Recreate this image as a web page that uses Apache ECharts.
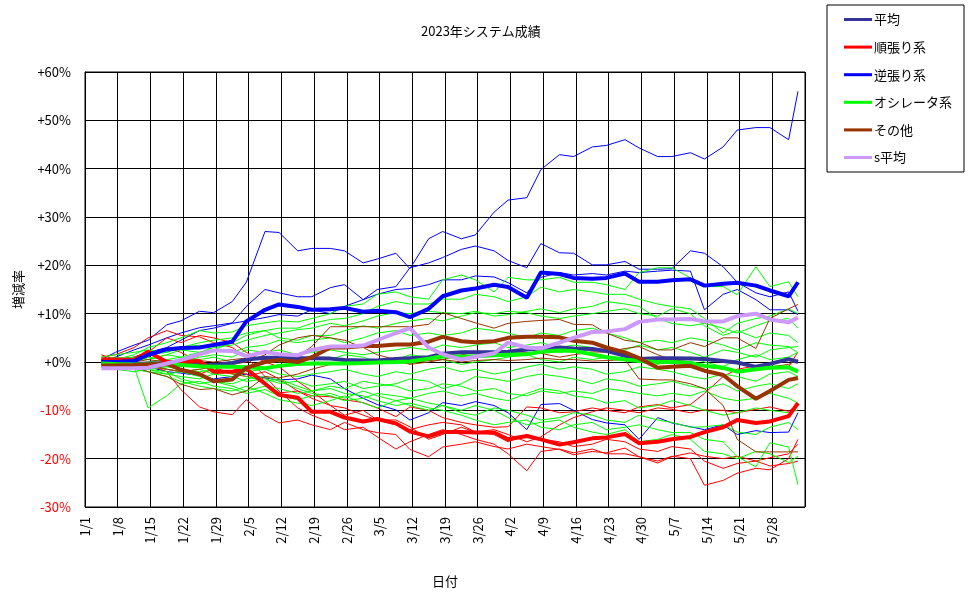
<!DOCTYPE html>
<html>
<head>
<meta charset="utf-8">
<script src="https://cdn.jsdelivr.net/npm/echarts@6/dist/echarts.min.js"></script>
<style>
html,body{margin:0;padding:0;background:#fff}
#main{width:970px;height:599px}
</style>
</head>
<body>
<div id="main"></div>
<script>
/* 2023年システム成績 */
// sample days, counted from 1/1 (= day 0)
var days = [3,6,10,13,17,20,24,27,31,34,38,41,45,48,52,55,59,62,66,69,73,76,80,83,87,90,94,97,101,104,108,111,115,118,122,125,129,132,136,139,143,146,150,152];
var xTickLabels = ['1/1','1/8','1/15','1/22','1/29','2/5','2/12','2/19','2/26','3/5','3/12','3/19','3/26','4/2','4/9','4/16','4/23','4/30','5/7','5/14','5/21','5/28'];
var yTickLabels = ['-30%','-20%','-10%','+0%','+10%','+20%','+30%','+40%','+50%','+60%'];

// 平均系 (太線)
var avgAll   = [-0.3,-0.3,-0.4,-0.3,-0.3,-0.5,-0.6,-0.6,-0.2,0.5,0.9,0.9,0.8,0.8,0.7,0.4,0.3,0.3,0.6,0.8,1,1.7,2,2,2,2.1,2.6,2.8,3,2.8,2.7,2.3,1.3,0.6,0.8,0.8,0.7,0.6,0.2,-0.1,-1,-0.4,0.6,0];
var avgTrend = [0.5,0.5,0.4,2.1,0,0,0.2,-2,-2,-1.4,-4.5,-6.8,-7.4,-10.3,-10.3,-11.5,-12.3,-11.8,-12.7,-14.4,-15.4,-14.5,-14.5,-14.6,-14.6,-16,-15.3,-16,-17.1,-16.6,-15.8,-15.6,-14.9,-16.8,-16.5,-16,-15.5,-14.5,-13.5,-12,-12.6,-12.3,-11.2,-8.5];
var avgCounter = [0,0,0.2,1.5,2.6,2.9,3,3.5,4.2,8.4,10.8,11.9,11.4,10.8,10.9,11.2,10.4,10.6,10.3,9.3,11,13.6,14.8,15.2,16,15.5,13.3,18.5,18.2,17.4,17.2,17.4,18.3,16.6,16.6,16.9,17.1,15.8,16.2,16.4,15.8,14.8,13.6,16.5];
var avgOsc   = [-0.3,-0.4,-0.5,-0.5,-0.6,-0.6,-0.9,-1,-1,-1.1,-1.3,-0.8,-0.4,-0.3,-0.3,-0.3,-0.2,-0.1,0,0.1,0.7,1.2,1.1,1.2,1.4,1.5,1.6,2.1,2.4,2.3,1.6,1,0.5,0.2,0,0,-0.2,-0.8,-1.2,-2,-1.5,-1.2,-1.1,-2];
var avgOther = [-0.7,-0.7,-0.6,-0.5,-0.4,-1.6,-2.5,-4,-3.6,-1.2,0,0.4,0,1,3,3,3.3,3.3,3.6,3.6,4.2,5.2,4.3,4.1,4.3,5,5.2,5.2,5.1,4.4,4,3,2,0.8,-1.2,-1,-0.8,-1.8,-2.7,-5,-7.6,-6,-3.7,-3.3];
var avgS     = [-1.3,-1.3,-1.3,-1.2,-0.3,0.4,1.6,2.4,2.3,1.2,2.1,1.6,1.4,2.5,3.2,3.2,3.4,4.5,6,7,3,1.6,0.5,1.1,1.8,4,3,2.8,4,5,6.2,6.3,6.8,8.3,8.8,8.8,8.9,8.4,8.4,9.5,10,8.8,8.2,9.2];

// 個別システム (細線)
var counter1 = [0.5,2,3.5,4.5,7.7,8.5,10.5,10.2,12.5,16.5,27,26.8,23,23.5,23.5,23,20.5,21.3,22.5,19.3,25.5,27,25.5,26.3,31,33.5,34,39.8,42.9,42.5,44.5,44.8,46,44.3,42.5,42.5,43.3,42,44.5,48,48.5,48.5,46,56];
var counter2 = [0,1,2.5,3.5,5,6,7.1,7.5,8.1,11.5,15,14.3,13.5,13.5,15.4,16,12.9,15,15.6,19.5,20.5,21.6,23.3,24,23,21,19.5,24.5,22.6,22.5,20.1,20.1,20.8,19.2,19.2,19.3,23,22.5,19.7,16.5,14.3,13.5,14.5,10.5];
var counter3 = [0.3,0.5,1,2,3,4.5,6.5,7,8,8.5,9.2,9.8,9.5,10.8,10,11.5,12.9,14,15,15.2,16,17,17,17.8,17.6,16.4,14.3,17.5,18.5,18,18.3,18,18.8,18.5,18.8,19,18.8,10.8,14,15,12.9,10.8,10.8,9.8];
var counter4 = [-0.5,-1,-1.5,-1,-2,-2.3,-2.8,-3.5,-3,-2.5,-3.3,-3.7,-3.5,-2.7,-3.5,-5.5,-7.5,-8.8,-9.9,-12,-10.5,-8.4,-9,-8.2,-9,-10.5,-14,-8.8,-8.6,-10,-11.9,-12.6,-13,-16,-11.5,-12.6,-13.4,-14,-13,-15,-14.2,-14.6,-14.5,-10.5];

var trend1 = [1,1.5,3,5,6.5,5.5,5.2,4,3,1,-3,-6,-9.5,-11,-12.5,-14,-13.5,-15.5,-18,-16.5,-15,-14,-15,-16,-17,-19,-22.5,-18.5,-18,-18.8,-18,-19,-19,-19.6,-20.5,-19.5,-20,-25.5,-24.5,-23,-22,-22.3,-20,-16];
var trend2 = [0,-0.5,-0.5,-1,-1.5,-2,-2.5,-1.5,-2,-2.5,-4.5,-6.4,-6,-7,-7.2,-7.8,-8.4,-9.5,-11.3,-9.3,-10,-11.5,-12.5,-13,-13.5,-13.4,-9.3,-9.5,-10.5,-10.3,-9.5,-10,-10.5,-9.3,-8.8,-9.5,-8.8,-6.5,-3,-1.5,-0.8,-1.2,-1,2.1];
var trend3 = [1.5,0.5,0,1,3,2,0,-1,-2.5,-3,-2,-3.5,-6,-7.5,-9,-9.5,-11,-12,-13,-14,-13,-12.5,-13,-14.5,-14,-15,-16.5,-15.5,-13,-11.5,-10.3,-9.5,-10,-10.5,-9.5,-9.8,-10.5,-9.9,-10,-10.5,-9.8,-9.3,-10.2,-8.8];
var trend4 = [0.5,0,-1,-0.5,-2,-5.7,-9.3,-10.3,-10.9,-7.8,-11,-12.6,-12,-13,-14,-12.5,-14,-14.6,-15,-18.1,-19.6,-17.6,-17,-16.5,-17.5,-18,-17,-17.5,-18.1,-19.2,-18.5,-18.8,-17.8,-19.6,-20.9,-19.6,-18.8,-19.5,-20,-19.5,-20.5,-19.8,-19,-17];
var trend5 = [0,0.5,1,2,5,4,5.5,5,4,2,0,-1,-4,-6,-9,-11,-10,-12,-12,-13.4,-16,-15,-13.5,-14.5,-15,-16.5,-15,-16,-16.5,-17.5,-17,-16,-16.5,-18,-18.5,-17.5,-18,-20.5,-22,-21,-20.5,-21.5,-21,-20.5];

var other1 = [0.5,0.2,0,0.5,0,0.5,0.3,0,0.5,0.8,0.5,1,1.2,3.2,7.3,7.3,7.3,7.3,7.3,7.3,7.8,10.2,9,8.1,7,8,8.4,8.6,8.8,7.8,7.7,6,4.5,4.1,2.5,2.5,4,3.2,5,5,2.8,9,11,11.9];
var other2 = [-0.5,-0.5,-1,-2,-3,-4.6,-5.7,-5.5,-6.8,-6,-3,-3.3,-2.5,-1.5,-0.5,0,0,0.2,0,-0.3,0.3,0.5,0,0.3,0.5,0.3,0.5,0.8,0.5,0.5,0.2,0.3,0.5,-3.5,-3.7,-3.7,-4.5,-5.5,-9,-16,-18.6,-18.6,-18.6,-18.6];
var other3 = [0,-0.5,-1,-0.5,-1.5,-2,-1.5,-1,-0.5,0,1.5,3.5,5,5.5,5,4.5,3,1.5,0.5,-0.5,0,0.5,1.5,2,2.2,2.1,2,1.8,1,1.5,2.1,2,2.8,3.2,1.5,0.5,0,-1,-1.5,-2,-1.5,-1,-0.5,0.5];

var osc1  = [0,0.5,1.5,3,4,5,6.5,6,6.2,7.5,8.1,8.5,8.3,9,10,11.5,12,14,14.5,13.5,13,17,18,17,14.5,17.5,17,17,17.5,16.5,16.5,16,15,18.5,19.5,19.5,17.4,15.6,15.6,13.9,19.7,15.6,16.6,13.5];
var osc2  = [0.5,1,0.5,1.5,2,3,3.5,2.5,4,5.5,6.5,7,7,8,8.8,9,10,11.5,12.5,12,12,13,13,14,13.5,12.5,13.5,15.5,14.5,15,14.5,14,14,13,12,11.5,11,9,6,8,9,9.5,11,10];
var osc3  = [-0.5,0,1,0.5,1.5,2.5,2,3,3.5,4.5,5.5,6,6.7,7,8,7.5,8.5,9.5,10.2,10,10.5,10.2,10,10.5,9.5,9.8,10.5,11,10.2,11,11.5,12.5,12,11.5,9,8,7.5,8,7,6,7.5,8.5,9,7];
var osc4  = [0,0.5,0,1,0.5,1,2,2.5,2,3,3.5,4.5,4,4.5,5,4,5,6,6.5,5.5,6,5.5,6,7,6.5,6,5,6,5.5,6.5,7,6,5,4,4.5,4,5,4.5,3.5,2.5,4,3.5,3.2,1.9];
var osc5  = [0.5,0,-0.5,0,0.5,0,1,1.5,1,2.5,2,2.5,1.5,2,2.5,2,1.5,2,2.5,3,2.5,3.5,3,3.5,4,3,3.5,4,3,3.5,3,2,2.5,3.5,2.5,3,2,1,2.5,2,1,2.5,3,3.2];
var osc6  = [-0.5,-1,-0.5,-1.5,-1,-1.5,-2,-1.5,-2.5,-2,-1.5,-2.5,-3,-2.5,-2,-1.5,-2.5,-3,-2,-2.5,-1.5,-1,-2,-1.5,-2.5,-2,-1,-0.5,-1.5,-1,-1.5,-2.5,-2,-1,-1.5,-2,-3,-3.5,-2.5,-3,-4,-2.5,-2,-3];
var osc7  = [-1,-1.5,-2,-1.5,-2.5,-3,-3.5,-2.5,-3,-4,-3.5,-4.4,-4,-5,-4.5,-4,-5.5,-5,-4.5,-3.5,-4,-5.5,-4.5,-3,-3.5,-4,-3,-2.5,-3,-3.5,-4.5,-3.5,-4,-5,-4.5,-4,-5,-5.5,-4.5,-6,-5,-4.5,-5.5,-4.5];
var osc8  = [0,-0.5,-1,-9.5,-7,-4.5,-4,-5,-5.5,-6.5,-5.7,-7,-7.8,-7,-6.5,-7.5,-6,-7,-8,-7.5,-6.5,-6,-7,-6.5,-7.5,-8,-6.5,-5.5,-6,-7,-7.5,-8.5,-8,-9.5,-9,-8,-9,-10,-11,-10.5,-9.5,-10,-10.5,-9.9];
var osc9  = [-0.5,-1,-1.5,-2,-3,-4,-5,-5.5,-6,-5,-6.5,-7.8,-8.5,-9,-8,-7,-8.5,-9.5,-8,-9,-10,-9,-10.5,-11,-9.5,-10,-11,-12,-11.5,-10.5,-11,-12,-12.5,-11,-12,-12.5,-13.5,-13.4,-13,-14.5,-15,-13.5,-12.5,-14];
var osc10 = [0,-0.5,-1,-0.5,-1.5,-2,-1.5,-2.5,-2,-3,-4,-3.5,-5,-6,-5.5,-6.5,-7,-8,-9,-8.5,-9.5,-10,-11,-12,-13,-12.5,-12,-13.5,-14,-13,-12.5,-14,-13.5,-13,-14,-14.6,-14.6,-16,-16.5,-19.6,-21.7,-16.7,-17.6,-25.4];
var osc11 = [-1,-0.5,-1.5,-2,-2.5,-2,-3,-4,-4.5,-3.5,-3,-4,-5.5,-6.5,-7,-8,-7.5,-6.5,-7,-7.5,-8.5,-9,-10,-9,-10,-11.5,-13,-12.5,-12,-13.5,-14.5,-15,-14,-16.5,-16,-15,-16,-18.5,-19,-20,-18.5,-19,-20.8,-19.5];
var osc12 = [0,0.5,1,0.5,1.5,1,0.5,1,0,0.5,1,0,0.5,1,0.5,1.5,1,0,0.5,1.5,1,0.5,-0.5,0,0.5,1,1.5,0.5,0,1,0.5,1,0.5,0,-0.5,0.5,1,0,-1,0.5,1.5,0.5,1,2];
var osc13 = [-0.5,0,-1,-1.5,-2,-3.5,-4.5,-4,-5,-6,-5,-5.5,-6.5,-6,-5,-5.5,-4,-4.5,-5,-6,-5.5,-4.5,-5,-6,-5.5,-6.5,-7,-6,-6.5,-6,-6.5,-5.5,-6,-6.5,-7,-6.5,-7,-6,-7.5,-8,-7.5,-6.5,-7.5,-8.5];
var osc14 = [1,1.5,2,2.5,2,3,4,4.5,5,6,6.5,5,4.5,5.5,5.5,6.5,7.5,7,8,8.5,9,8.5,9.5,10.2,10,10.5,10.2,9.5,9,9.5,10,10.5,11,10,9.5,11,10,7.5,5.5,6.5,5,6,5.5,4];

var C_ALL = '#333399', C_TREND = '#ff0000', C_COUNTER = '#0000ff', C_OSC = '#00ff00', C_OTHER = '#993300', C_S = '#cc99ff';

function line(name, vals, color, width) {
    return {
        name: name,
        type: 'line',
        // 点は日の中央に置く(元グラフの日付軸と同じ)
        data: vals.map(function (v, i) { return [days[i] + 0.5, v]; }),
        showSymbol: false,
        symbol: 'none',
        silent: true,
        lineStyle: { color: color, width: width },
        itemStyle: { color: color }
    };
}

var series = [];
[counter1, counter2, counter3, counter4].forEach(function (a, i) { series.push(line('逆張り' + (i + 1), a, C_COUNTER, 1)); });
[trend1, trend2, trend3, trend4, trend5].forEach(function (a, i) { series.push(line('順張り' + (i + 1), a, C_TREND, 1)); });
[osc1, osc2, osc3, osc4, osc5, osc6, osc7, osc8, osc9, osc10, osc11, osc12, osc13, osc14].forEach(function (a, i) { series.push(line('オシレータ' + (i + 1), a, C_OSC, 1)); });
[other1, other2, other3].forEach(function (a, i) { series.push(line('その他' + (i + 1), a, C_OTHER, 1)); });

series.push(line('平均', avgAll, C_ALL, 4));
series.push(line('順張り系', avgTrend, C_TREND, 4));
series.push(line('逆張り系', avgCounter, C_COUNTER, 4));
series.push(line('オシレータ系', avgOsc, C_OSC, 4));
series.push(line('その他', avgOther, C_OTHER, 4));
series.push(line('s平均', avgS, C_S, 4));

var myChart = echarts.init(document.getElementById('main'));
var font = "'Noto Sans CJK JP', 'DejaVu Sans', sans-serif";
var option = {
    animation: false,
    backgroundColor: '#fff',
    textStyle: { fontFamily: font },
    title: {
        text: '2023年システム成績',
        left: 416,
        top: 20,
        textStyle: { fontSize: 13, fontWeight: 'normal', color: '#000', fontFamily: font }
    },
    legend: {
        data: ['平均', '順張り系', '逆張り系', 'オシレータ系', 'その他', 's平均'],
        orient: 'vertical',
        left: 827,
        top: 5,
        width: 133,
        padding: [8, 12, 8, 17],
        itemGap: 14.6,
        itemWidth: 28,
        itemHeight: 3,
        icon: 'rect',
        backgroundColor: '#fff',
        borderColor: '#000',
        borderWidth: 1,
        borderRadius: 0,
        selectedMode: false,
        textStyle: { fontSize: 13, color: '#000', fontFamily: font, padding: [0, 0, 0, -3] }
    },
    grid: {
        left: 85, right: 165, top: 72, bottom: 92,
        show: true, borderColor: '#000', borderWidth: 1
    },
    xAxis: {
        type: 'value',
        min: 0, max: 154, interval: 7,
        name: '日付',
        nameLocation: 'middle',
        nameGap: 68,
        nameTextStyle: { fontSize: 13, color: '#000' },
        axisLine: { show: true, lineStyle: { color: '#000', width: 1 } },
        axisTick: { show: false },
        splitLine: { show: true, lineStyle: { color: '#000', width: 1 } },
        axisLabel: {
            rotate: 90,
            margin: 10,
            fontSize: 13,
            color: '#000',
            showMaxLabel: false,
            formatter: function (v) { return xTickLabels[Math.round(v / 7)] || ''; }
        }
    },
    yAxis: {
        type: 'value',
        min: -30, max: 60, interval: 10,
        name: '増減率',
        nameLocation: 'middle',
        nameRotate: 90,
        nameGap: 60,
        nameTextStyle: { fontSize: 13, color: '#000' },
        axisLine: { show: true, lineStyle: { color: '#000', width: 1 } },
        axisTick: { show: false },
        splitLine: { show: true, lineStyle: { color: '#000', width: 1 } },
        axisLabel: {
            margin: 14,
            fontSize: 13,
            color: function (v) { return Number(v) < 0 ? '#ff0000' : '#000'; },
            formatter: function (v) { return yTickLabels[Math.round((v + 30) / 10)]; }
        }
    },
    series: series
};
myChart.setOption(option);
</script>
</body>
</html>
